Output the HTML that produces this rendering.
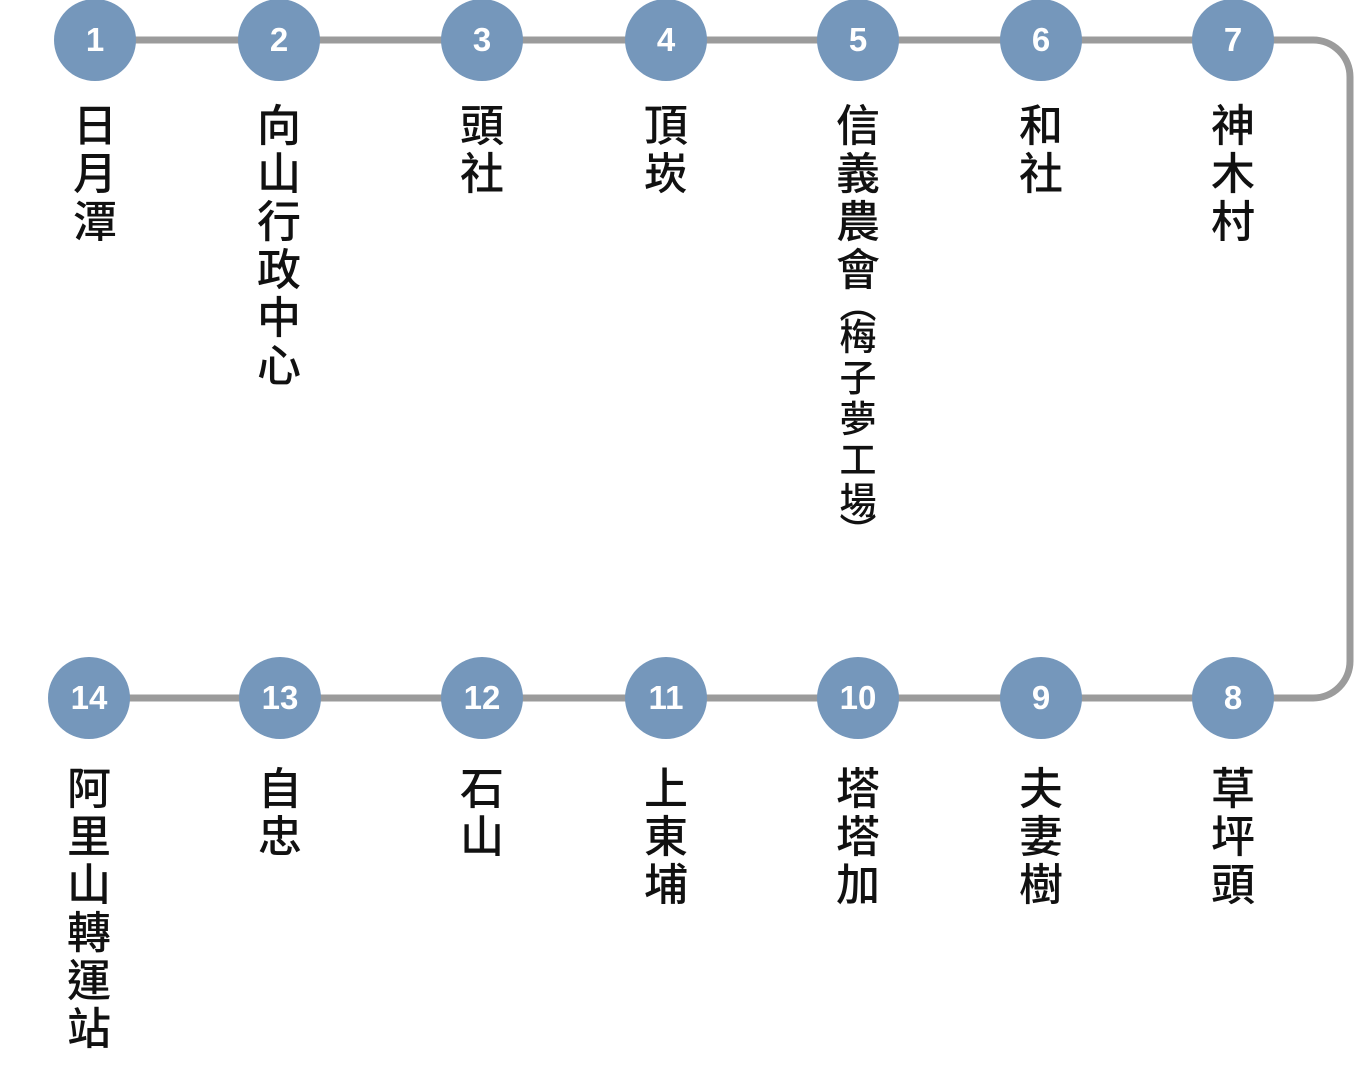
<!DOCTYPE html>
<html><head><meta charset="utf-8"><style>
html,body{margin:0;padding:0;background:#fff;}
body{width:1363px;height:1087px;position:relative;overflow:hidden;}
.c{position:absolute;width:82px;height:82px;border-radius:50%;background:#7597bb;color:#fff;font:bold 33px/82px "Liberation Sans",sans-serif;text-align:center;}
.t{position:absolute;width:80px;font-family:"Liberation Sans","Noto Sans CJK TC",sans-serif;font-weight:500;color:#111;text-align:center;}
.t span{display:block;height:48px;line-height:48px;font-size:44px;}
.t span.s{height:41px;line-height:41px;font-size:37px;}
.t span.p{height:22px;line-height:22px;font-size:37px;}
</style></head><body>
<svg width="1363" height="1087" style="position:absolute;left:0;top:0">
<path d="M95 40 H1313 A37 37 0 0 1 1350 77 V661 A37 37 0 0 1 1313 698 H89" fill="none" stroke="#9b9b9b" stroke-width="7"/>
</svg>
<div class="c" style="left:54px;top:-1px">1</div>
<div class="c" style="left:238px;top:-1px">2</div>
<div class="c" style="left:441px;top:-1px">3</div>
<div class="c" style="left:625px;top:-1px">4</div>
<div class="c" style="left:817px;top:-1px">5</div>
<div class="c" style="left:1000px;top:-1px">6</div>
<div class="c" style="left:1192px;top:-1px">7</div>
<div class="c" style="left:1192px;top:657px">8</div>
<div class="c" style="left:1000px;top:657px">9</div>
<div class="c" style="left:817px;top:657px">10</div>
<div class="c" style="left:625px;top:657px">11</div>
<div class="c" style="left:441px;top:657px">12</div>
<div class="c" style="left:239px;top:657px">13</div>
<div class="c" style="left:48px;top:657px">14</div>

<div class="t" style="left:55px;top:103px"><span>日</span><span>月</span><span>潭</span></div>
<div class="t" style="left:239px;top:103px"><span>向</span><span>山</span><span>行</span><span>政</span><span>中</span><span>心</span></div>
<div class="t" style="left:442px;top:103px"><span>頭</span><span>社</span></div>
<div class="t" style="left:626px;top:103px"><span>頂</span><span>崁</span></div>
<div class="t" style="left:818px;top:103px"><span>信</span><span>義</span><span>農</span><span>會</span><span class="p">︵</span><span class="s">梅</span><span class="s">子</span><span class="s">夢</span><span class="s">工</span><span class="s">場</span><span class="p">︶</span></div>
<div class="t" style="left:1001px;top:103px"><span>和</span><span>社</span></div>
<div class="t" style="left:1193px;top:103px"><span>神</span><span>木</span><span>村</span></div>

<div class="t" style="left:1193px;top:766px"><span>草</span><span>坪</span><span>頭</span></div>
<div class="t" style="left:1001px;top:766px"><span>夫</span><span>妻</span><span>樹</span></div>
<div class="t" style="left:818px;top:766px"><span>塔</span><span>塔</span><span>加</span></div>
<div class="t" style="left:626px;top:766px"><span>上</span><span>東</span><span>埔</span></div>
<div class="t" style="left:442px;top:766px"><span>石</span><span>山</span></div>
<div class="t" style="left:240px;top:766px"><span>自</span><span>忠</span></div>
<div class="t" style="left:49px;top:766px"><span>阿</span><span>里</span><span>山</span><span>轉</span><span>運</span><span>站</span></div>
</body></html>
